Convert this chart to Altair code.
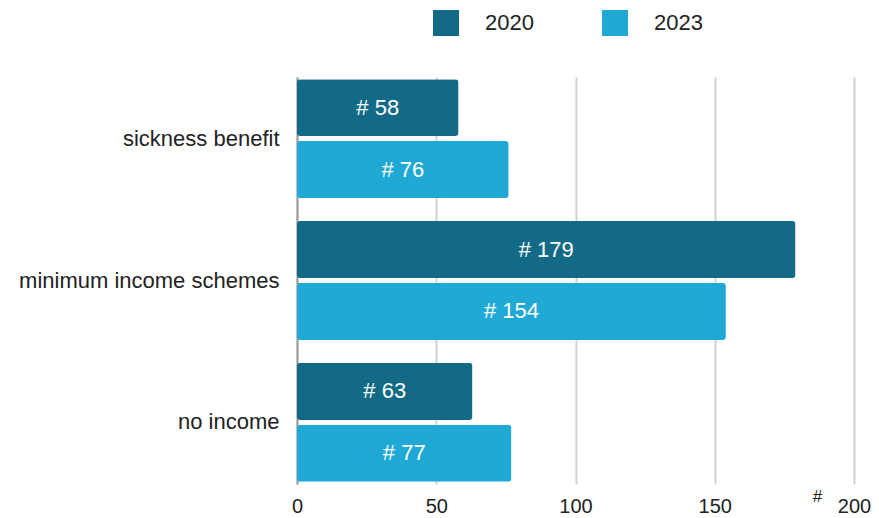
import altair as alt
import pandas as pd

categories = ["sickness benefit", "minimum income schemes", "no income"]
years = ["2020", "2023"]
values_2020 = [58, 179, 63]
values_2023 = [76, 154, 77]
colors = ["#136a87", "#21a9d6"]
tick_values = [0, 50, 100, 150, 200]

rows = []
for c, a, b in zip(categories, values_2020, values_2023):
    rows.append({"category": c, "year": "2020", "value": a})
    rows.append({"category": c, "year": "2023", "value": b})
df = pd.DataFrame(rows)
df["label"] = "# " + df["value"].astype(str)

FONT = "Liberation Sans"

base = alt.Chart(df).encode(
    y=alt.Y(
        "category:N",
        sort=categories,
        scale=alt.Scale(paddingInner=0.162, paddingOuter=0.015),
        axis=alt.Axis(
            title=None, labelFontSize=22, labelPadding=18, ticks=False,
            domainColor="#9a9a9a", domainWidth=2, labelColor="#222222",
            grid=False, labelFont=FONT, labelLimit=400,
        ),
    ),
    yOffset=alt.YOffset("year:N", sort=years, scale=alt.Scale(paddingInner=0.08)),
)

bars = base.mark_bar(cornerRadius=3).encode(
    x=alt.X(
        "value:Q",
        scale=alt.Scale(domain=[0, 200], nice=False),
        axis=alt.Axis(
            values=tick_values, title="#", titleFontSize=17, titleFontWeight="normal",
            titleAlign="center", titleX=520, titleY=4, titleBaseline="top",
            titleColor="#222222", titleFont=FONT,
            labelFontSize=20, labelPadding=12, labelColor="#222222", labelFont=FONT,
            labelFlush=False, labelOverlap=False,
            ticks=False, domain=False, grid=True, gridColor="#d2d2d2", gridWidth=2,
        ),
    ),
    color=alt.Color(
        "year:N",
        scale=alt.Scale(domain=years, range=colors),
        legend=alt.Legend(
            title=None, orient="none", legendX=136, legendY=-67,
            direction="horizontal", symbolType="square", symbolSize=676,
            symbolStrokeWidth=0, labelFontSize=22, labelOffset=26,
            columnPadding=68, padding=0, labelColor="#222222", labelFont=FONT,
        ),
    ),
)

text = base.transform_calculate(mid="datum.value / 2").mark_text(
    color="white", fontSize=22, font=FONT
).encode(
    x=alt.X("mid:Q"),
    text="label:N",
)

chart = alt.layer(bars, text).properties(
    width=557, height=407,
    autosize=alt.AutoSizeParams(type="none"),
    padding={"left": 289, "top": 69, "right": 17, "bottom": 34},
).configure_view(stroke=None)

chart.save("out.html", embed_options={"renderer": "svg", "actions": False})
